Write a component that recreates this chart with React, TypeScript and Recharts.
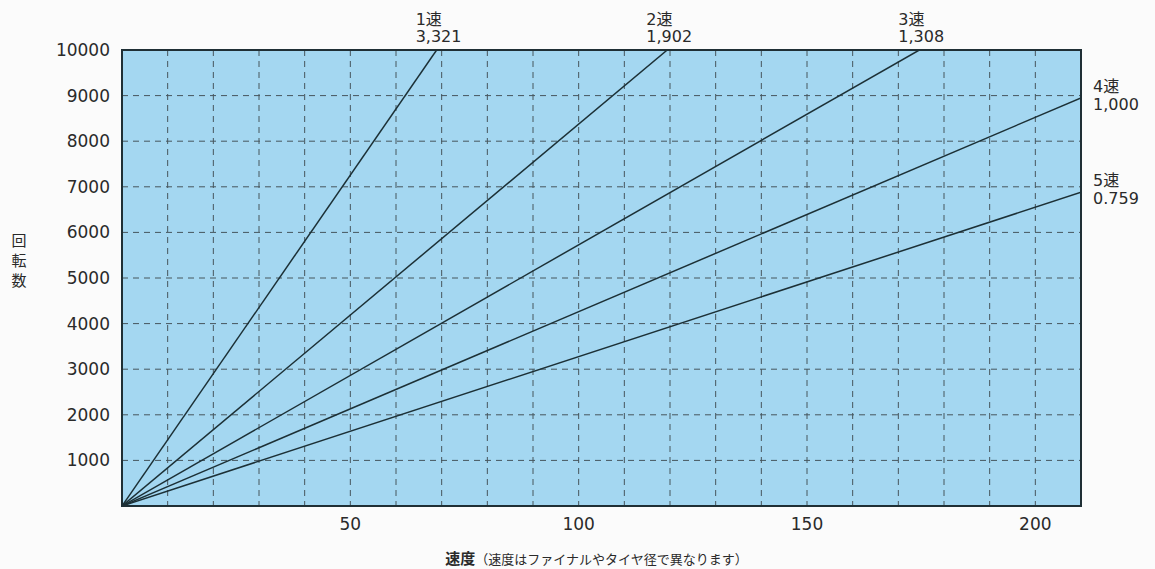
import React from 'react';
import { LineChart, Line, XAxis, YAxis, CartesianGrid, ReferenceArea, LabelList, Label } from 'recharts';

const gearNames = ['1速', '2速', '3速', '4速', '5速'];
const gearRatios = ['3,321', '1,902', '1,308', '1,000', '0.759'];
const gearEndSpeed = [68.9, 119.4, 174.6, 210, 210];
const gearEndRpm = [10000, 10000, 10000, 8950, 6880];

const xTicks = [50, 100, 150, 200];
const yTicks = [1000, 2000, 3000, 4000, 5000, 6000, 7000, 8000, 9000, 10000];
const xGrid = [10, 20, 30, 40, 50, 60, 70, 80, 90, 100, 110, 120, 130, 140, 150, 160, 170, 180, 190, 200];
const yGrid = [1000, 2000, 3000, 4000, 5000, 6000, 7000, 8000, 9000];

const xTitleMain = '速度';
const xTitleNote = '（速度はファイナルやタイヤ径で異なります）';
const yTitle = '回転数';

const FONT = '"DejaVu Sans", "Noto Sans CJK JP", sans-serif';
const JP = '"Noto Sans CJK JP", sans-serif';
const INK = '#2a2a2a';
const LINE = '#1c3036';

const series = gearNames.map((name, i) => ({
  name,
  ratio: gearRatios[i],
  data: [
    { x: 0, y: 0 },
    { x: gearEndSpeed[i], y: gearEndRpm[i] },
  ],
}));

const makeLabel = (name: string, ratio: string) => (props: any) => {
  const { x, y, index } = props;
  if (index !== 1) return null;
  const atTop = Math.abs(y - 50) < 2;
  if (atTop) {
    return (
      <g>
        <text x={x - 21} y={y - 25} fontSize={16} fontFamily={FONT} fill={INK}>{name}</text>
        <text x={x - 21} y={y - 8} fontSize={16} fontFamily={FONT} fill={INK}>{ratio}</text>
      </g>
    );
  }
  return (
    <g>
      <text x={x + 12} y={y - 6} fontSize={16} fontFamily={FONT} fill={INK}>{name}</text>
      <text x={x + 12} y={y + 12} fontSize={16} fontFamily={FONT} fill={INK}>{ratio}</text>
    </g>
  );
};

const YTitle = (props: any) => {
  const vb = props.viewBox || { x: 0, y: 0, height: 0 };
  const cx = 19;
  const top = vb.y + 196;
  return (
    <g>
      {yTitle.split('').map((ch, i) => (
        <text key={i} x={cx} y={top + i * 20} fontSize={15} fontFamily={JP} fill={INK} textAnchor="middle">{ch}</text>
      ))}
    </g>
  );
};

const XTitle = (props: any) => {
  const vb = props.viewBox || { x: 0, y: 0, width: 0 };
  const cx = vb.x + vb.width / 2 - 5;
  return (
    <text x={cx} y={564} textAnchor="middle" fontFamily={JP} fill={INK}>
      <tspan fontSize={15} fontWeight={700}>{xTitleMain}</tspan>
      <tspan fontSize={13}>{xTitleNote}</tspan>
    </text>
  );
};

export default function App() {
  return (
    <div style={{ position: 'absolute', left: 0, top: 0, width: 1155, height: 569, background: '#fbfbfb' }}>
      <LineChart width={1155} height={569} margin={{ top: 50, right: 74, bottom: 0, left: 0 }}>
        <CartesianGrid
          fill="#a4d7f1"
          stroke="#46565d"
          strokeDasharray="6 5"
          strokeWidth={1}
          verticalValues={xGrid}
          horizontalValues={yGrid}
        />
        <XAxis
          type="number"
          dataKey="x"
          domain={[0, 210]}
          ticks={xTicks}
          allowDataOverflow
          height={63}
          tickLine={false}
          axisLine={{ stroke: '#1f2f35', strokeWidth: 2 }}
          tick={{ fontSize: 17, fontFamily: FONT, fill: INK, dy: 4 }}
        >
          <Label content={<XTitle />} />
        </XAxis>
        <YAxis
          type="number"
          domain={[0, 10000]}
          ticks={yTicks}
          allowDataOverflow
          width={122}
          tickLine={false}
          axisLine={{ stroke: '#1f2f35', strokeWidth: 2 }}
          tick={{ fontSize: 17, fontFamily: FONT, fill: INK, dx: -4 }}
        >
          <Label content={<YTitle />} />
        </YAxis>
        <ReferenceArea x1={0} x2={210} y1={0} y2={10000} fill="none" stroke="#1f2f35" strokeWidth={2} ifOverflow="visible" />
        {series.map((s) => (
          <Line
            key={s.name}
            data={s.data}
            dataKey="y"
            type="linear"
            stroke={LINE}
            strokeWidth={1.5}
            dot={false}
            activeDot={false}
            isAnimationActive={false}
          >
            <LabelList dataKey="y" content={makeLabel(s.name, s.ratio)} />
          </Line>
        ))}
      </LineChart>
    </div>
  );
}
